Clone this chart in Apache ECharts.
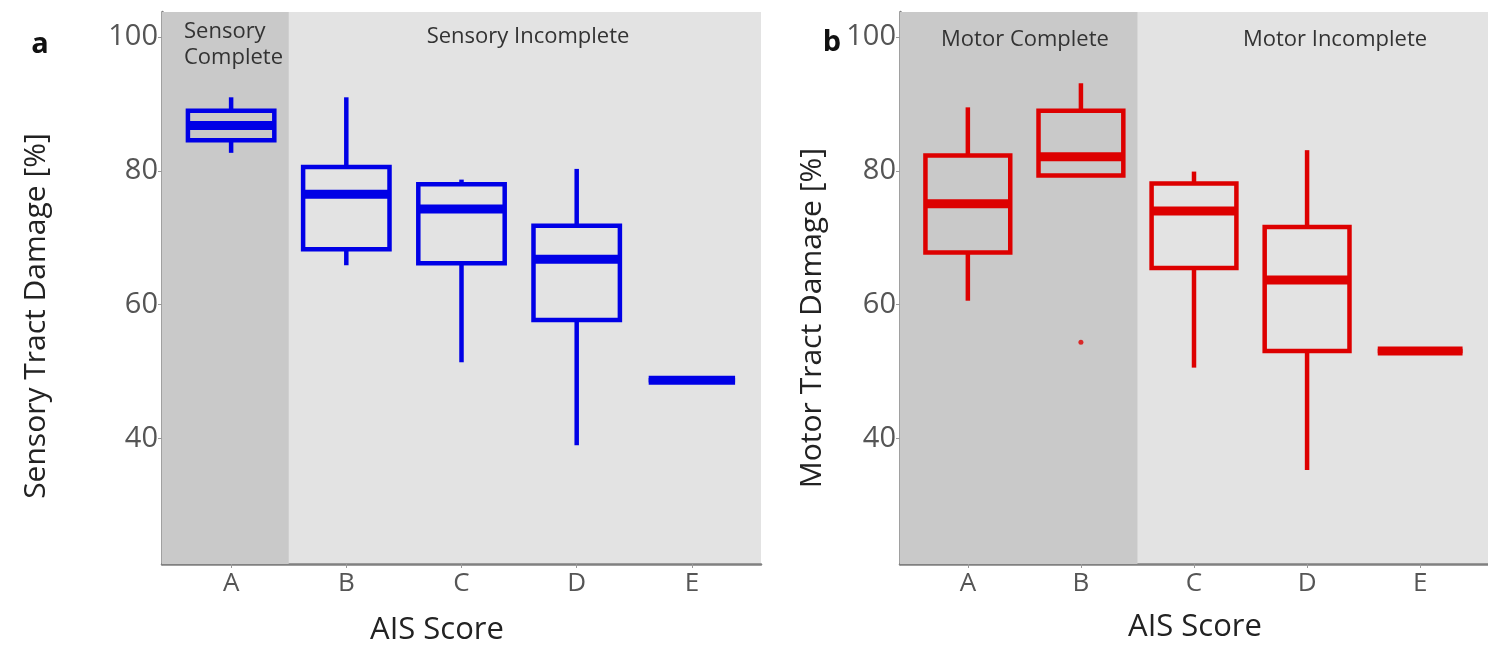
<!DOCTYPE html>
<html>
<head>
<meta charset="utf-8">
<script src="https://cdn.jsdelivr.net/npm/echarts@6/dist/echarts.min.js"></script>
<style>
  html, body { margin: 0; padding: 0; background: #ffffff; }
  #chart { width: 1488px; height: 649px; }
</style>
</head>
<body>
<div id="chart"></div>
<script>
// AIS grades on the x axis
const categories = ['A', 'B', 'C', 'D', 'E'];

// Box statistics per grade: [lower whisker, Q1, median, Q3, upper whisker]
const sensoryStats = [
  [82.7, 84.6, 86.8, 89.0, 91.0],
  [65.9, 68.3, 76.5, 80.6, 91.0],
  [51.4, 66.2, 74.3, 78.0, 78.7],
  [39.0, 57.7, 66.8, 71.8, 80.3],
  [48.7, 48.7, 48.7, 48.7, 48.7]
];
const motorStats = [
  [60.6, 67.8, 75.1, 82.3, 89.5],
  [79.3, 79.3, 82.1, 89.0, 93.1],
  [50.6, 65.5, 74.0, 78.1, 79.9],
  [35.3, 53.1, 63.7, 71.6, 83.1],
  [53.1, 53.1, 53.1, 53.1, 53.1]
];
// Points beyond the whiskers: [grade, value]
const motorOutliers = [['B', 54.4]];

// Grades that count as "complete" injuries (shaded darker)
const sensoryComplete = ['A'];
const motorComplete = ['A', 'B'];

// y tick labels
const yTicks = [40, 60, 80, 100];

const BLUE = '#0000e6';
const RED = '#dd0000';
const FONT = '"Open Sans", "DejaVu Sans", sans-serif';

const Y_MIN = 21.25, Y_MAX = 103.75;
const X_MIN = 0.4, X_MAX = 5.6;

function boxData(stats) {
  return stats.map((s, i) => [i + 1].concat(s));
}
function outlierData(list) {
  return list.map(([g, v]) => [categories.indexOf(g) + 1, v]);
}

function renderBox(color) {
  return function (params, api) {
    const x = api.value(0);
    const lo = api.value(1), q1 = api.value(2), med = api.value(3), q3 = api.value(4), hi = api.value(5);
    const half = 0.375;
    const tl = api.coord([x - half, q3]);
    const br = api.coord([x + half, q1]);
    const top = api.coord([x, hi]);
    const bot = api.coord([x, lo]);
    const mL = api.coord([x - half, med]);
    const mR = api.coord([x + half, med]);
    const lw = 4.5;
    const st = { stroke: color, lineWidth: lw, fill: null, lineCap: 'butt' };
    return {
      type: 'group',
      children: [
        { type: 'line', shape: { x1: top[0], y1: top[1], x2: top[0], y2: tl[1] }, style: st },
        { type: 'line', shape: { x1: bot[0], y1: br[1], x2: bot[0], y2: bot[1] }, style: st },
        { type: 'rect', shape: { x: tl[0], y: tl[1], width: br[0] - tl[0], height: br[1] - tl[1] },
          style: { stroke: color, lineWidth: lw, fill: 'rgba(0,0,0,0)' } },
        { type: 'line', shape: { x1: mL[0], y1: mL[1], x2: mR[0], y2: mR[1] },
          style: { stroke: color, lineWidth: 9, lineCap: 'butt' } }
      ]
    };
  };
}

function renderShade(params, api) {
  const cs = params.coordSys;
  const lastIdx = api.value(0);
  const edge = api.coord([lastIdx + 0.5, Y_MIN])[0];
  return {
    type: 'rect',
    shape: { x: cs.x, y: cs.y, width: edge - cs.x, height: cs.height },
    style: { fill: '#c9c9c9' },
    silent: true
  };
}

function makeXAxis(gridIndex) {
  return {
    type: 'value', gridIndex, min: X_MIN, max: X_MAX,
    axisLine: { show: true, onZero: false, lineStyle: { color: '#808080', width: 2.5 } },
    axisTick: { show: true, customValues: [1, 2, 3, 4, 5], length: 4, lineStyle: { color: '#999' } },
    axisLabel: {
      customValues: [1, 2, 3, 4, 5],
      formatter: v => categories[Math.round(v) - 1] || '',
      color: '#555', fontSize: 26, fontFamily: FONT, margin: 7
    },
    splitLine: { show: false }
  };
}
function makeYAxis(gridIndex) {
  return {
    type: 'value', gridIndex, min: Y_MIN, max: Y_MAX,
    axisLine: { show: true, onZero: false, lineStyle: { color: '#808080', width: 2.5 } },
    axisTick: { show: true, customValues: yTicks, length: 4, lineStyle: { color: '#999' } },
    axisLabel: { customValues: yTicks, color: '#555', fontSize: 29, fontFamily: FONT, margin: 4 },
    splitLine: { show: false }
  };
}

const chart = echarts.init(document.getElementById('chart'), null, { renderer: 'canvas' });

const textStyle = (size, color, weight) => ({
  fontFamily: FONT, fontSize: size, fill: color, fontWeight: weight || 'normal'
});

chart.setOption({
  animation: false,
  backgroundColor: '#ffffff',
  grid: [
    { left: 162, top: 12, width: 599, height: 552, show: true, borderWidth: 0, backgroundColor: '#e3e3e3' },
    { left: 900, top: 12, width: 601, height: 552, show: true, borderWidth: 0, backgroundColor: '#e3e3e3' }
  ],
  xAxis: [makeXAxis(0), makeXAxis(1)],
  yAxis: [makeYAxis(0), makeYAxis(1)],
  series: [
    {
      type: 'custom', xAxisIndex: 0, yAxisIndex: 0, z: 1, clip: true,
      data: [[categories.indexOf(sensoryComplete[sensoryComplete.length - 1]) + 1]],
      encode: { x: 0 }, renderItem: renderShade
    },
    {
      type: 'custom', xAxisIndex: 1, yAxisIndex: 1, z: 1, clip: true,
      data: [[categories.indexOf(motorComplete[motorComplete.length - 1]) + 1]],
      encode: { x: 0 }, renderItem: renderShade
    },
    {
      type: 'custom', name: 'Sensory', xAxisIndex: 0, yAxisIndex: 0, z: 3,
      data: boxData(sensoryStats), encode: { x: 0, y: [1, 2, 3, 4, 5] },
      renderItem: renderBox(BLUE)
    },
    {
      type: 'custom', name: 'Motor', xAxisIndex: 1, yAxisIndex: 1, z: 3,
      data: boxData(motorStats), encode: { x: 0, y: [1, 2, 3, 4, 5] },
      renderItem: renderBox(RED)
    },
    {
      type: 'scatter', xAxisIndex: 1, yAxisIndex: 1, z: 4,
      data: outlierData(motorOutliers), symbolSize: 5,
      itemStyle: { color: RED }
    }
  ],
  graphic: [
    { type: 'text', x: 40, y: 45, style: Object.assign({ text: 'a', textAlign: 'center', textVerticalAlign: 'middle' }, textStyle(29, '#111', 'bold')) },
    { type: 'text', x: 832, y: 43, style: Object.assign({ text: 'b', textAlign: 'center', textVerticalAlign: 'middle' }, textStyle(29, '#111', 'bold')) },
    { type: 'text', x: 36, y: 316, rotation: Math.PI / 2,
      style: Object.assign({ text: 'Sensory Tract Damage [%]', textAlign: 'center', textVerticalAlign: 'middle' }, textStyle(30, '#222')) },
    { type: 'text', x: 812, y: 318, rotation: Math.PI / 2,
      style: Object.assign({ text: 'Motor Tract Damage [%]', textAlign: 'center', textVerticalAlign: 'middle' }, textStyle(30, '#222')) },
    { type: 'text', x: 437, y: 630,
      style: Object.assign({ text: 'AIS Score', textAlign: 'center', textVerticalAlign: 'middle' }, textStyle(31, '#222')) },
    { type: 'text', x: 1195, y: 627,
      style: Object.assign({ text: 'AIS Score', textAlign: 'center', textVerticalAlign: 'middle' }, textStyle(31, '#222')) },
    { type: 'text', x: 184, y: 32, z: 10,
      style: Object.assign({ text: 'Sensory', textAlign: 'left', textVerticalAlign: 'middle' }, textStyle(22, '#333')) },
    { type: 'text', x: 184, y: 58, z: 10,
      style: Object.assign({ text: 'Complete', textAlign: 'left', textVerticalAlign: 'middle' }, textStyle(22, '#333')) },
    { type: 'text', x: 528, y: 37, z: 10,
      style: Object.assign({ text: 'Sensory Incomplete', textAlign: 'center', textVerticalAlign: 'middle' }, textStyle(22, '#333')) },
    { type: 'text', x: 1025, y: 40, z: 10,
      style: Object.assign({ text: 'Motor Complete', textAlign: 'center', textVerticalAlign: 'middle' }, textStyle(22, '#333')) },
    { type: 'text', x: 1335, y: 40, z: 10,
      style: Object.assign({ text: 'Motor Incomplete', textAlign: 'center', textVerticalAlign: 'middle' }, textStyle(22, '#333')) }
  ]
});
</script>
</body>
</html>
